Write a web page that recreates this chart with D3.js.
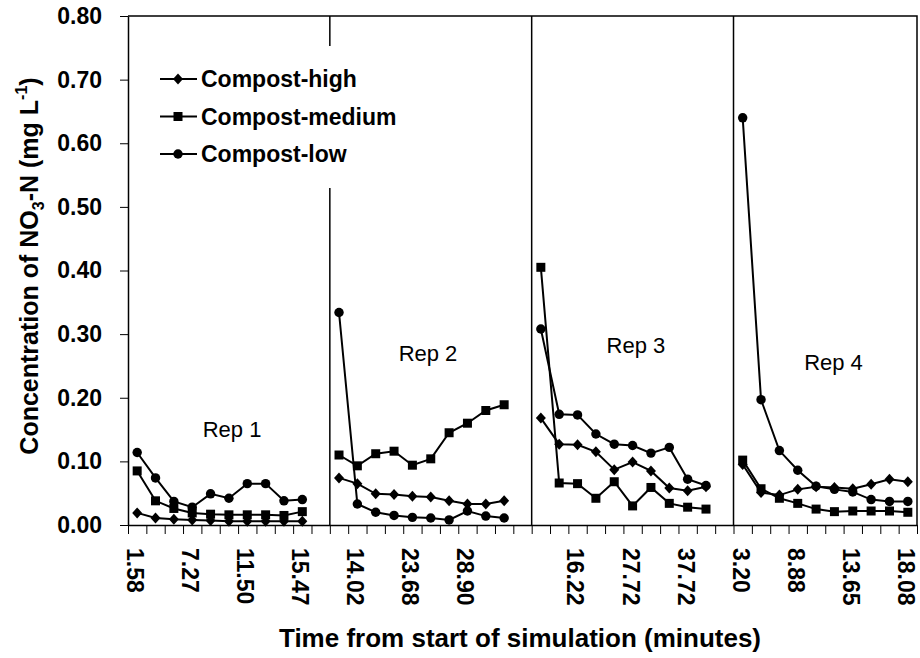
<!DOCTYPE html>
<html>
<head>
<meta charset="utf-8">
<script src="https://cdn.jsdelivr.net/npm/d3@7"></script>
<style>
    body { margin: 0; background: #fff; }
    svg  { display: block; font-family: "Liberation Sans", Arial, sans-serif; }
</style>
</head>
<body>
<script>
/* global d3 */

var reps        = ["Rep 1", "Rep 2", "Rep 3", "Rep 4"];
var seriesNames = ["Compost-high", "Compost-medium", "Compost-low"];
var yTicks      = [0, 0.1, 0.2, 0.3, 0.4, 0.5, 0.6, 0.7, 0.8];

// one label every third time slot, empty slot between Rep 2 and Rep 3
var tickLabels = [ "1.58", "7.27", "11.50", "15.47"
                 , "14.02", "23.68", "28.90", ""
                 , "16.22", "27.72", "37.72"
                 , "3.20", "8.88", "13.65", "18.08"
                 ];

var compostHigh = [
    [0.019, 0.011, 0.009, 0.008, 0.007, 0.006, 0.006, 0.006, 0.006, 0.006],
    [0.074, 0.065, 0.049, 0.048, 0.045, 0.044, 0.038, 0.033, 0.033, 0.038],
    [0.168, 0.127, 0.126, 0.115, 0.087, 0.099, 0.085, 0.058, 0.054, 0.060],
    [0.095, 0.051, 0.047, 0.056, 0.060, 0.059, 0.057, 0.064, 0.072, 0.068]
];
var compostMedium = [
    [0.085, 0.038, 0.026, 0.019, 0.017, 0.016, 0.016, 0.016, 0.015, 0.021],
    [0.110, 0.093, 0.112, 0.116, 0.094, 0.104, 0.145, 0.160, 0.180, 0.189],
    [0.405, 0.066, 0.065, 0.042, 0.068, 0.030, 0.059, 0.034, 0.028, 0.025],
    [0.102, 0.057, 0.042, 0.034, 0.025, 0.021, 0.022, 0.022, 0.022, 0.020]
];
var compostLow = [
    [0.114, 0.074, 0.037, 0.028, 0.049, 0.042, 0.065, 0.065, 0.038, 0.040],
    [0.334, 0.033, 0.020, 0.015, 0.012, 0.011, 0.008, 0.022, 0.014, 0.011],
    [0.308, 0.174, 0.173, 0.143, 0.127, 0.125, 0.113, 0.122, 0.072, 0.062],
    [0.640, 0.197, 0.117, 0.086, 0.061, 0.056, 0.052, 0.040, 0.037, 0.037]
];

// where the "Rep n" captions sit: [slot position, value]
var repLabelPos = [[5.67, 0.139], [16.35, 0.257], [27.68, 0.271], [38.45, 0.244]];

var slotsPerRep = 11;
var nSlots      = 43;

var width  = 920;
var height = 658;
var margin = {top: 16, right: 3, bottom: 133, left: 128};

var svg = d3.select("body").append("svg")
            .attr("width", width)
            .attr("height", height);

var xEdge = d3.scaleLinear()
              .domain([0, nSlots])
              .range([margin.left, width - margin.right]);

var x = d3.scaleBand()
          .domain(d3.range(nSlots))
          .range([margin.left, width - margin.right]);

var y = d3.scaleLinear()
          .domain([0, 0.8])
          .range([height - margin.bottom, margin.top]);

var bold = (sel, size) => sel.style("font-weight", "bold").style("font-size", size + "px");

// frame
svg.append("path")
   .attr("d", "M" + xEdge(0) + "," + y(0.8) + "H" + xEdge(nSlots) + "V" + y(0))
   .attr("fill", "none")
   .attr("stroke", "#000")
   .attr("stroke-width", 1.5);

// rep dividers
svg.append("g")
   .selectAll("line")
   .data([1, 2, 3])
   .enter().append("line")
   .attr("x1", (d) => xEdge(d * slotsPerRep))
   .attr("x2", (d) => xEdge(d * slotsPerRep))
   .attr("y1", y(0.8))
   .attr("y2", y(0))
   .attr("stroke", "#000")
   .attr("stroke-width", 1.5);

// y axis
var yAxis = svg.append("g")
               .attr("transform", "translate(" + margin.left + ",0)")
               .call(d3.axisLeft(y)
                       .tickValues(yTicks)
                       .tickFormat(d3.format(".2f"))
                       .tickSize(8)
                       .tickPadding(18)
                       .tickSizeOuter(0));
yAxis.select(".domain").attr("stroke-width", 1.5);
yAxis.selectAll("text").attr("fill", "#000").call(bold, 23).style("font-family", null);

// x axis: tick marks on slot edges
var xTicks = svg.append("g")
                .attr("transform", "translate(0," + y(0) + ")")
                .call(d3.axisBottom(xEdge)
                        .tickValues(d3.range(nSlots + 1))
                        .tickFormat("")
                        .tickSize(9)
                        .tickSizeOuter(0));
xTicks.select(".domain").attr("stroke-width", 1.5);

// x labels at slot centres, rotated
var labelSlots = tickLabels.map((d, i) => i * 3);

var xLabels = svg.append("g")
                 .attr("transform", "translate(-2," + y(0) + ")")
                 .call(d3.axisBottom(x)
                         .tickValues(labelSlots)
                         .tickFormat((d, i) => tickLabels[i])
                         .tickSize(0)
                         .tickPadding(0));
xLabels.select(".domain").remove();
xLabels.selectAll("text")
       .attr("fill", "#000")
       .attr("transform", "rotate(90)")
       .attr("x", 23)
       .attr("y", 0)
       .attr("dy", "0.35em")
       .style("text-anchor", "start")
       .style("font-family", null)
       .call(bold, 23);

// axis titles
svg.append("text")
   .attr("x", 520)
   .attr("y", 647)
   .attr("text-anchor", "middle")
   .call(bold, 26)
   .text("Time from start of simulation (minutes)");

var yTitle = svg.append("text")
                .attr("transform", "translate(38,266) rotate(-90)")
                .attr("text-anchor", "middle")
                .call(bold, 25);
yTitle.append("tspan").text("Concentration of NO");
yTitle.append("tspan").attr("dy", 6).style("font-size", "16px").text("3");
yTitle.append("tspan").attr("dy", -6).text("-N (mg L");
yTitle.append("tspan").attr("dy", -11).style("font-size", "16px").text("-1");
yTitle.append("tspan").attr("dy", 11).text(")");

// markers
var markers = {
    "Compost-high":   "M0,-5.5L5,0L0,5.5L-5,0Z",
    "Compost-medium": "M-4.5,-4.5H4.5V4.5H-4.5Z",
    "Compost-low":    d3.symbol(d3.symbolCircle, 70)()
};
var seriesData = {
    "Compost-high":   compostHigh,
    "Compost-medium": compostMedium,
    "Compost-low":    compostLow
};

var cx   = (slot) => x(slot) + x.bandwidth() / 2;
var line = d3.line()
             .x((d) => cx(d.slot))
             .y((d) => y(d.value));

seriesNames.forEach((name) => {
    seriesData[name].forEach((values, r) => {
        var pts = values.map((v, i) => ({slot: r * slotsPerRep + i, value: v}));
        var g   = svg.append("g");

        g.append("path")
         .attr("d", line(pts))
         .attr("fill", "none")
         .attr("stroke", "#000")
         .attr("stroke-width", 2);

        g.selectAll("path.mark")
         .data(pts)
         .enter().append("path")
         .attr("class", "mark")
         .attr("d", markers[name])
         .attr("transform", (d) => "translate(" + cx(d.slot) + "," + y(d.value) + ")")
         .attr("fill", "#000");
    });
});

// rep captions
svg.append("g")
   .selectAll("text")
   .data(reps)
   .enter().append("text")
   .attr("x", (d, i) => xEdge(repLabelPos[i][0]))
   .attr("y", (d, i) => y(repLabelPos[i][1]))
   .attr("text-anchor", "middle")
   .style("font-size", "22px")
   .text((d) => d);

// legend
var legend = svg.append("g");
legend.append("rect")
      .attr("x", 150)
      .attr("y", 46)
      .attr("width", 262)
      .attr("height", 142)
      .attr("fill", "#fff");

var rows = legend.selectAll("g.row")
                 .data(seriesNames)
                 .enter().append("g")
                 .attr("class", "row")
                 .attr("transform", (d, i) => "translate(0," + (79 + i * 37.5) + ")");
rows.append("line")
    .attr("x1", 160)
    .attr("x2", 197)
    .attr("stroke", "#000")
    .attr("stroke-width", 2);
rows.append("path")
    .attr("d", (d) => markers[d])
    .attr("transform", "translate(178,0)")
    .attr("fill", "#000");
rows.append("text")
    .attr("x", 201)
    .attr("dy", "0.35em")
    .call(bold, 23)
    .text((d) => d);
</script>
</body>
</html>
